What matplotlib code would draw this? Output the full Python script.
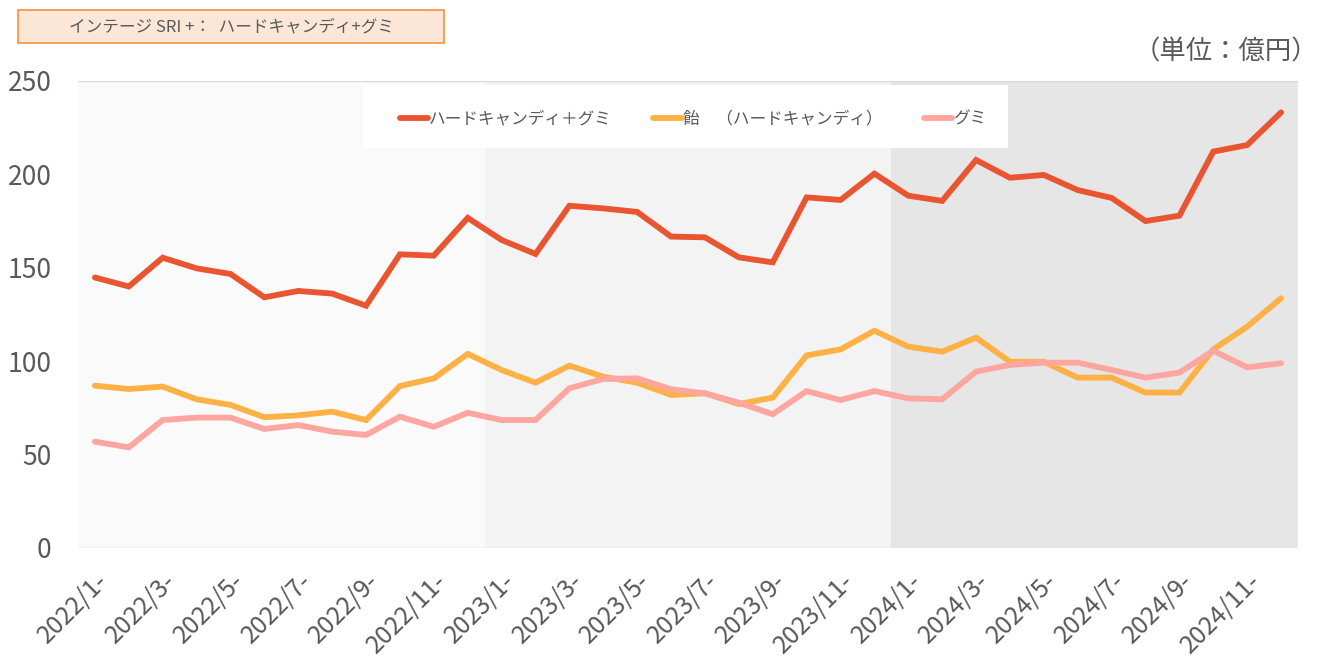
import matplotlib
matplotlib.use("Agg")
import matplotlib.pyplot as plt
from matplotlib.patches import Rectangle

plt.rcParams['font.family'] = ['Noto Sans CJK JP', 'DejaVu Sans']

months = [f"{y}/{m}-" for y in (2022, 2023, 2024) for m in range(1, 13)]
total = [144.8, 140.0, 155.4, 149.7, 146.7, 134.2, 137.6, 136.2, 129.7, 157.2, 156.5, 176.7,
         164.9, 157.4, 183.2, 181.8, 179.9, 166.7, 166.3, 155.6, 152.9, 187.7, 186.3, 200.4,
         188.6, 185.8, 207.7, 198.2, 199.7, 191.6, 187.4, 175.0, 177.9, 212.2, 215.7, 233.2]
hard = [86.9, 85.1, 86.4, 79.6, 76.6, 70.0, 71.0, 73.0, 68.5, 86.7, 90.8, 103.9,
        95.3, 88.5, 97.6, 91.7, 88.5, 81.9, 82.8, 77.1, 80.5, 103.1, 106.3, 116.3,
        107.8, 105.1, 112.6, 99.7, 99.7, 91.2, 91.2, 83.2, 83.2, 106.3, 118.5, 133.7]
gummy = [56.9, 53.9, 68.5, 69.8, 69.8, 63.7, 65.8, 62.3, 60.5, 70.3, 64.9, 72.4,
         68.5, 68.5, 85.5, 90.5, 90.8, 85.0, 82.8, 77.8, 71.6, 84.0, 79.2, 84.0,
         80.1, 79.6, 94.4, 98.0, 99.2, 99.2, 95.3, 91.2, 93.9, 105.6, 96.7, 98.9]
series_names = ["ハードキャンディ＋グミ", "飴　（ハードキャンディ）", "グミ"]
colors = ["#E95530", "#FFB146", "#FFA6A0"]
yticks = [0, 50, 100, 150, 200, 250]
band_colors = ["#FAFAFA", "#F3F3F3", "#E6E6E6"]

fig = plt.figure(figsize=(13.21, 6.60), dpi=100)
ax = fig.add_axes([0.059, 0.1697, 0.9236, 0.7076])

n = len(months)
x = list(range(n))
for i, c in enumerate(band_colors):
    ax.add_patch(Rectangle((i * 12 - 0.5, 0), 12, 250, facecolor=c, edgecolor='none', zorder=0))

ax.axhline(250, color="#D9D9D9", lw=1, zorder=1)
ax.axhline(0, color="#D9D9D9", lw=1, zorder=1)

for vals, name, col in zip([total, hard, gummy], series_names, colors):
    ax.plot(x, vals, color=col, lw=4.2, label=name, zorder=3, solid_capstyle='round', solid_joinstyle='miter')

ax.set_xlim(-0.5, n - 0.5)
ax.set_ylim(0, 250)
ax.set_yticks(yticks)
ax.set_yticklabels([str(v) for v in yticks], fontsize=19, color="#595959")
ax.set_xticks(x[::2])
ax.set_xticklabels(months[::2], rotation=45, ha='right', rotation_mode='anchor', fontsize=18, color="#595959")
ax.tick_params(axis='x', length=0, pad=14)
ax.tick_params(axis='y', length=0, pad=19)
for s in ax.spines.values():
    s.set_visible(False)

# legend background box
ax.add_patch(Rectangle((0.2336, 0.8565), 0.7623 - 0.2336, 0.9914 - 0.8565, transform=ax.transAxes,
                       facecolor='white', edgecolor='none', zorder=4))
leg = ax.legend(loc='center', bbox_to_anchor=(0.504, 0.918), ncol=3, frameon=False,
                fontsize=12, handlelength=1.7, handletextpad=0.05, columnspacing=2.5)
for t in leg.get_texts():
    t.set_color("#595959")
for h in leg.get_lines():
    h.set_linewidth(4.2)
leg.set_zorder(5)

# title box
fig.patches.append(Rectangle((18 / 1321, 1 - 43 / 660), 426 / 1321, 33 / 660, transform=fig.transFigure,
                             facecolor="#FCE6D8", edgecolor="#F4913F", lw=1.2, zorder=1))
fig.text(231 / 1321, 1 - 27 / 660, "インテージ SRI +：  ハードキャンディ+グミ", ha='center', va='center',
         fontsize=12, color="#595959", zorder=2)
fig.text(0.998, 0.922, "（単位：億円）", ha='right', va='center', fontsize=19, color="#595959")

fig.savefig("out.png", dpi=100)
